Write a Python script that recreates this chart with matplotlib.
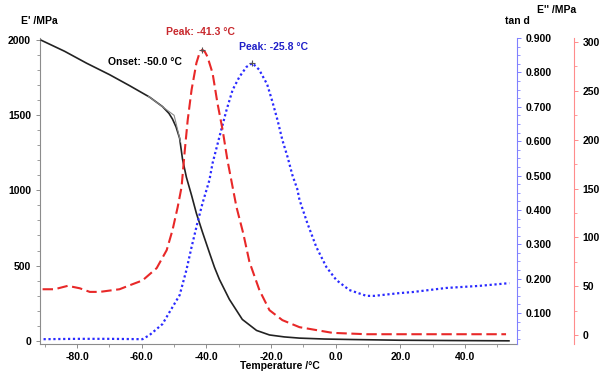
import matplotlib
matplotlib.use("Agg")
import matplotlib.pyplot as plt
from matplotlib.ticker import MultipleLocator, FormatStrFormatter

plt.rcParams['font.family'] = ['Liberation Sans', 'DejaVu Sans']
plt.rcParams['font.weight'] = 'bold'

# ---- data ----
# Storage modulus E' (MPa)
e1_T = [-91.1, -83.9, -77.1, -70.0, -63.8, -57.6, -53.6, -51.6, -50.5, -49.4,
        -48.3, -47.4, -46.2, -44.6, -43.1, -41.2, -39.0, -37.5, -36.0, -32.9,
        -28.9, -24.5, -20.5, -15.9, -11.2, -3.5, 4.2, 19.7, 35.0, 53.6]
e1_V = [1995, 1922, 1843, 1767, 1694, 1618, 1555, 1510, 1472, 1420,
        1345, 1206, 1086, 966, 846, 720, 581, 488, 409, 276,
        143, 70, 40, 27, 19, 13, 10, 5, 3, 1]

# Loss modulus E'' (MPa)
e2_T = [-90.7, -87.0, -82.9, -79.2, -76.1, -73.0, -66.9, -63.8, -59.8, -55.4,
        -52.3, -50.5, -48.9, -47.7, -46.7, -45.8, -44.6, -43.1, -42.3, -41.3,
        -40.5, -39.7, -38.1, -36.6, -35.0, -33.5, -31.9, -30.7, -28.6, -26.7,
        -23.6, -20.5, -16.5, -11.2, -1.0, 9.5, 19.7, 35.0, 52.7]
e2_V = [47, 47, 50.5, 48, 44.3, 44.3, 47, 51, 56, 68.6,
        87, 107.5, 131, 151.5, 189, 220, 251, 278.5, 287, 292,
        290, 285, 268, 237.5, 210, 179, 151.5, 131, 104, 75,
        46, 25.6, 15.4, 8.2, 2.4, 1, 1, 1, 1]

# Loss factor tan d
td_T = [-90.4, -80.0, -70.0, -59.8, -57.6, -53.6, -51.6, -48.3, -46.2, -44.6,
        -42.8, -41.2, -39.1, -38.1, -36.0, -33.8, -31.9, -29.8, -27.6, -25.8,
        -23.7, -21.2, -19.6, -18.0, -16.5, -14.9, -13.4, -11.9, -11.2, -8.8,
        -6.0, -2.9, 0.2, 4.2, 9.5, 11.9, 19.7, 23.7, 34.2, 44.4, 53.7]
td_V = [0.024, 0.025, 0.025, 0.024, 0.036, 0.068, 0.100, 0.152, 0.225, 0.292,
        0.362, 0.420, 0.486, 0.536, 0.612, 0.690, 0.749, 0.787, 0.816, 0.827,
        0.808, 0.765, 0.715, 0.661, 0.603, 0.554, 0.501, 0.461, 0.429, 0.362,
        0.292, 0.234, 0.196, 0.167, 0.150, 0.150, 0.158, 0.161, 0.173, 0.179, 0.187]

# Onset construction (tangent lines)
onset_T = [-58.0, -50.0, -48.0]
onset_V = [1624, 1497, 1320]

x_ticks = [-80, -60, -40, -20, 0, 20, 40]
e1_ticks = [0, 500, 1000, 1500, 2000]
e2_ticks = [0, 50, 100, 150, 200, 250, 300]
td_ticks = [0.1, 0.2, 0.3, 0.4, 0.5, 0.6, 0.7, 0.8, 0.9]

# ---- figure ----
W, H = 600, 385
fig = plt.figure(figsize=(W / 100, H / 100), dpi=100)
ax = fig.add_axes([40 / W, 1 - 344 / H, (516.7 - 40) / W, (344 - 38) / H])
ax2 = ax.twinx()
ax3 = ax.twinx()

gray = '#8c8c8c'
lblue = '#8080ff'
lred = '#ff8c8c'
fs = 7.5

# E' curve
ax.plot(e1_T, e1_V, color='#222222', lw=1.2, zorder=3)
ax.plot(onset_T, onset_V, color='#8a8a8a', lw=0.8, zorder=4)

# tan d
ax2.plot(td_T, td_V, color='#2a2aff', lw=1.6, linestyle=(0, (1, 1.2)),
         dash_capstyle='butt')
ipk = td_V.index(max(td_V))
ax2.plot([td_T[ipk]], [td_V[ipk]], marker='+', color='#555555', ms=5, mew=0.8)

# E''
ax3.plot(e2_T, e2_V, color='#e82828', lw=1.5, dashes=(5, 2.2))
ipk2 = e2_V.index(max(e2_V))
ax3.plot([e2_T[ipk2]], [e2_V[ipk2]], marker='+', color='#555555', ms=5, mew=0.8)

# limits
ax.set_xlim(-91.5, 56)
ax.set_ylim(-20, 2010)
ax2.set_ylim(0.01, 0.90)
ax3.set_ylim(-9, 304)

# spines
for s in ['top', 'right']:
    ax.spines[s].set_visible(False)
ax.spines['left'].set_color(gray)
ax.spines['bottom'].set_color(gray)
for a in (ax2, ax3):
    for s in ['top', 'left', 'bottom']:
        a.spines[s].set_visible(False)
ax2.spines['right'].set_color(lblue)
ax3.spines['right'].set_color(lred)
ax3.spines['right'].set_position(('outward', 41))

# ticks
ax.set_xticks(x_ticks)
ax.xaxis.set_major_formatter(FormatStrFormatter('%.1f'))
ax.xaxis.set_minor_locator(MultipleLocator(10))
ax.set_yticks(e1_ticks)
ax.yaxis.set_minor_locator(MultipleLocator(100))
ax.tick_params(axis='both', which='both', colors=gray, labelcolor='black',
               labelsize=fs, direction='out')
ax.tick_params(which='major', length=3, width=0.7)
ax.tick_params(which='minor', length=2, width=0.6)
ax.tick_params(axis='x', pad=2.5)

ax2.set_yticks(td_ticks)
ax2.yaxis.set_major_formatter(FormatStrFormatter('%.3f'))
ax2.yaxis.set_minor_locator(MultipleLocator(0.025))
ax2.tick_params(axis='y', which='both', colors=lblue, labelcolor='black',
                labelsize=fs, direction='out')
ax2.tick_params(which='major', length=3, width=0.7)
ax2.tick_params(which='minor', length=2, width=0.6)

ax3.set_yticks(e2_ticks)
ax3.yaxis.set_minor_locator(MultipleLocator(25))
ax3.tick_params(axis='y', which='both', colors=lred, labelcolor='black',
                labelsize=fs, direction='out')
ax3.tick_params(which='major', length=3, width=0.7)
ax3.tick_params(which='minor', length=2, width=0.6)

for a in (ax, ax2, ax3):
    for lab in a.get_xticklabels() + a.get_yticklabels():
        lab.set_fontweight('bold')

# labels
def ftext(x, y, s, **kw):
    fig.text(x / W, 1 - y / H, s, fontsize=fs, fontweight='bold',
             va='center', **kw)

ftext(21, 21.5, "E' /MPa")
ftext(505, 21, "tan d")
ftext(537, 10, "E'' /MPa")
ftext(240, 366, "Temperature /\u00b0C")
ftext(108, 62, "Onset: -50.0 \u00b0C", color='black')
ftext(165.5, 32, "Peak: -41.3 \u00b0C", color='#c8282d')
ftext(239, 47, "Peak: -25.8 \u00b0C", color='#2020c8')

fig.savefig('out.png', dpi=100)
